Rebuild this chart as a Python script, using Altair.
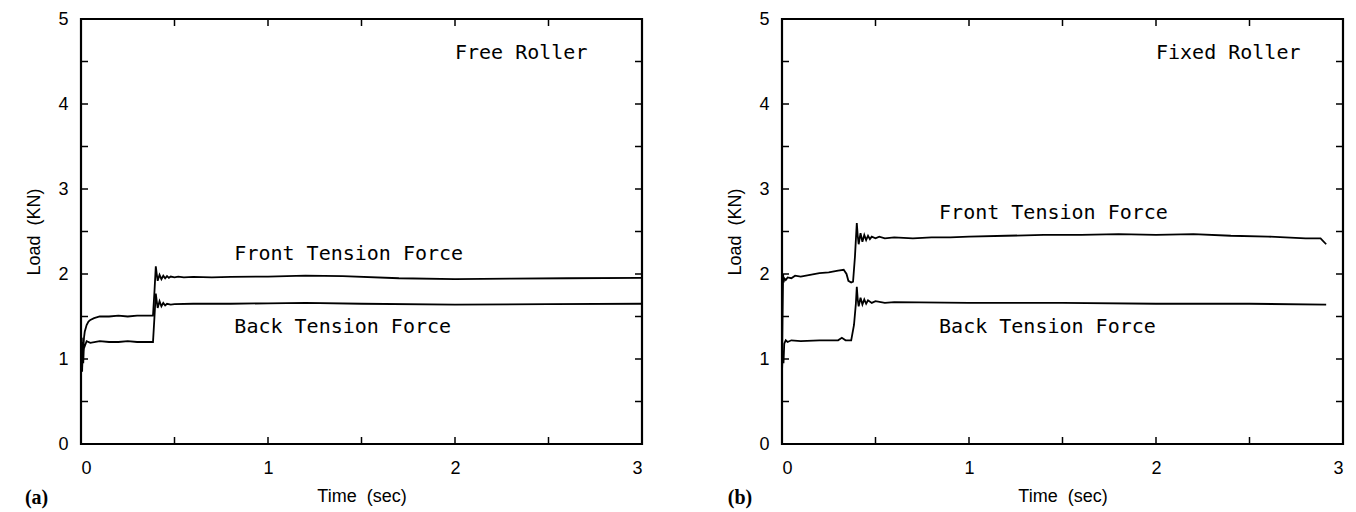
import altair as alt
import pandas as pd

# ---------------- data ----------------
# Panel (a): Free Roller
a_front_t = [0, 0.003, 0.006, 0.009, 0.012, 0.016, 0.02, 0.03, 0.04, 0.05, 0.07, 0.1, 0.15, 0.2,
             0.25, 0.3, 0.35, 0.385, 0.393, 0.4, 0.405, 0.41, 0.42, 0.43, 0.44, 0.45, 0.46, 0.47,
             0.48, 0.5, 0.52, 0.55, 0.6, 0.7, 0.8, 1.0, 1.2, 1.4, 1.7, 2.0, 2.3, 2.6, 3.0]
a_front_v = [1.0, 1.25, 0.9, 1.2, 1.1, 1.25, 1.32, 1.4, 1.44, 1.46, 1.48, 1.5, 1.5, 1.51,
             1.5, 1.51, 1.51, 1.51, 1.8, 2.09, 2.0, 1.92, 1.99, 1.94, 1.98, 1.95, 1.975, 1.955,
             1.97, 1.96, 1.97, 1.96, 1.965, 1.96, 1.965, 1.97, 1.98, 1.975, 1.95, 1.94, 1.945, 1.95, 1.955]
a_back_t = [0, 0.003, 0.006, 0.009, 0.012, 0.016, 0.02, 0.03, 0.05, 0.1, 0.15, 0.2, 0.25, 0.3,
            0.35, 0.385, 0.393, 0.4, 0.405, 0.41, 0.42, 0.43, 0.44, 0.45, 0.46, 0.48, 0.5, 0.6,
            0.8, 1.0, 1.2, 1.5, 2.0, 2.5, 3.0]
a_back_v = [0.9, 1.25, 0.85, 1.2, 0.95, 1.18, 1.15, 1.21, 1.19, 1.21, 1.2, 1.2, 1.21, 1.2,
            1.2, 1.2, 1.5, 1.77, 1.68, 1.6, 1.68, 1.62, 1.66, 1.63, 1.65, 1.64, 1.645, 1.65,
            1.65, 1.655, 1.66, 1.65, 1.64, 1.645, 1.65]

# Panel (b): Fixed Roller
b_front_t = [0, 0.003, 0.006, 0.009, 0.012, 0.02, 0.03, 0.05, 0.07, 0.1, 0.15, 0.2, 0.25, 0.3,
             0.33, 0.345, 0.355, 0.37, 0.38, 0.39, 0.4, 0.405, 0.41, 0.42, 0.43, 0.44, 0.45,
             0.46, 0.47, 0.48, 0.5, 0.52, 0.55, 0.6, 0.7, 0.8, 0.9, 1.0, 1.2, 1.4, 1.6, 1.8,
             2.0, 2.2, 2.4, 2.6, 2.8, 2.88, 2.91]
b_front_v = [0.9, 1.5, 2.0, 1.9, 1.95, 1.93, 1.96, 1.95, 1.98, 1.97, 1.99, 2.01, 2.02, 2.04,
             2.05, 2.0, 1.92, 1.9, 1.91, 2.2, 2.6, 2.45, 2.35, 2.48, 2.38, 2.46, 2.4,
             2.45, 2.41, 2.44, 2.42, 2.44, 2.42, 2.43, 2.42, 2.43, 2.43, 2.44, 2.45, 2.46, 2.46, 2.47,
             2.46, 2.47, 2.45, 2.44, 2.42, 2.42, 2.35]
b_back_t = [0, 0.004, 0.008, 0.012, 0.02, 0.03, 0.05, 0.1, 0.2, 0.3, 0.32, 0.34, 0.37, 0.385,
            0.395, 0.4, 0.405, 0.41, 0.42, 0.43, 0.44, 0.45, 0.46, 0.48, 0.5, 0.55, 0.6, 1.0,
            1.5, 2.0, 2.5, 2.91]
b_back_v = [0.85, 1.1, 0.95, 1.18, 1.22, 1.2, 1.22, 1.21, 1.22, 1.22, 1.25, 1.22, 1.22, 1.4,
            1.65, 1.85, 1.7, 1.62, 1.72, 1.64, 1.7, 1.65, 1.69, 1.66, 1.68, 1.66, 1.67, 1.66,
            1.66, 1.65, 1.65, 1.64]

# annotations: (t, load, text)
a_labels_t = [2.0, 0.82, 0.82]
a_labels_v = [4.6, 2.24, 1.38]
a_labels_s = ["Free Roller", "Front Tension Force", "Back Tension Force"]
b_labels_t = [2.0, 0.84, 0.84]
b_labels_v = [4.6, 2.72, 1.38]
b_labels_s = ["Fixed Roller", "Front Tension Force", "Back Tension Force"]

x_ticks = [0, 1, 2, 3]
y_ticks = [0, 1, 2, 3, 4, 5]
x_minor = [0, 0.5, 1, 1.5, 2, 2.5, 3]
y_minor = [0, 0.5, 1, 1.5, 2, 2.5, 3, 3.5, 4, 4.5, 5]

W, H = 561, 425
TICK = 7
SANS = "Liberation Sans"
NB = "\u00a0"


def panel(ft, fv, bt, bv, lt, lv, ls, tag, tag_t, tag_v):
    df = pd.concat([
        pd.DataFrame({"t": ft, "v": fv, "series": "front"}),
        pd.DataFrame({"t": bt, "v": bv, "series": "back"}),
    ])
    xs = alt.Scale(domain=[0, 3], nice=False, zero=False)
    ys = alt.Scale(domain=[0, 5], nice=False, zero=False)
    lines = alt.Chart(df).mark_line(color="black", strokeWidth=1.8).encode(
        x=alt.X("t:Q", scale=xs, axis=alt.Axis(values=x_ticks, format="d",
                                              title="Time" + NB + NB + "(sec)",
                                              labelPadding=15, titlePadding=10)),
        y=alt.Y("v:Q", scale=ys, axis=alt.Axis(values=y_ticks, format="d",
                                              title="Load" + NB + NB + "(KN)",
                                              labelPadding=13, titlePadding=14)),
        detail="series:N",
    )
    ydf = pd.DataFrame({"v": y_minor})
    xdf = pd.DataFrame({"t": x_minor})
    lt_ = alt.Chart(ydf).mark_rule(color="black", strokeWidth=1.5).encode(
        y=alt.Y("v:Q", scale=ys), x=alt.value(0), x2=alt.value(TICK))
    rt_ = alt.Chart(ydf).mark_rule(color="black", strokeWidth=1.5).encode(
        y=alt.Y("v:Q", scale=ys), x=alt.value(W - TICK), x2=alt.value(W))
    bt_ = alt.Chart(xdf).mark_rule(color="black", strokeWidth=1.5).encode(
        x=alt.X("t:Q", scale=xs), y=alt.value(H - TICK), y2=alt.value(H))
    tt_ = alt.Chart(xdf).mark_rule(color="black", strokeWidth=1.5).encode(
        x=alt.X("t:Q", scale=xs), y=alt.value(0), y2=alt.value(TICK))
    ann = alt.Chart(pd.DataFrame({"t": lt, "v": lv, "s": ls})).mark_text(
        align="left", baseline="middle", font="DejaVu Sans Mono", fontSize=20, color="black"
    ).encode(x=alt.X("t:Q", scale=xs), y=alt.Y("v:Q", scale=ys), text="s:N")
    tagc = alt.Chart(pd.DataFrame({"t": [tag_t], "v": [tag_v], "s": [tag]})).mark_text(
        align="left", baseline="middle", font="Liberation Serif", fontSize=20,
        fontWeight="bold", color="black"
    ).encode(x=alt.X("t:Q", scale=xs), y=alt.Y("v:Q", scale=ys), text="s:N")
    return alt.layer(lines, lt_, rt_, bt_, tt_, ann, tagc).properties(width=W, height=H)


left = panel(a_front_t, a_front_v, a_back_t, a_back_v,
             a_labels_t, a_labels_v, a_labels_s, "(a)", -0.30, -0.63)
right = panel(b_front_t, b_front_v, b_back_t, b_back_v,
              b_labels_t, b_labels_v, b_labels_s, "(b)", -0.29, -0.63)

chart = alt.hconcat(left, right, spacing=78).properties(
    padding={"left": 15, "top": 0, "right": 0, "bottom": 0}
).configure_view(stroke="black", strokeWidth=2.2).configure_axis(
    domain=False, ticks=False, grid=False,
    labelFont=SANS, labelFontSize=18, labelColor="black",
    titleFont=SANS, titleFontSize=18, titleFontWeight="normal", titleColor="black",
)

chart.save("out.html", embed_options={"renderer": "svg", "actions": False})
